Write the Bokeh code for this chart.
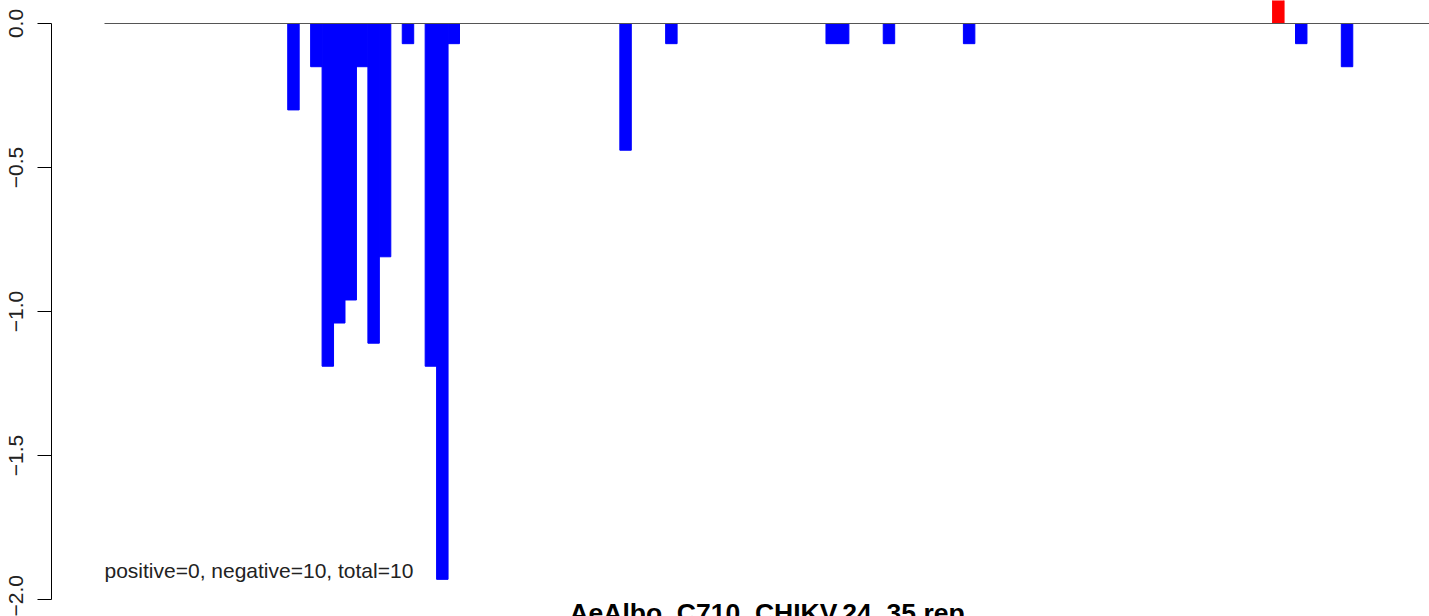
from bokeh.plotting import figure
from bokeh.models import ColumnDataSource, FixedTicker, CustomJSTickFormatter, Label
from bokeh.embed import file_html
from bokeh.resources import INLINE

# ---- data (bin index along the sequence, score) ----
bins = [16, 18, 19, 20, 21, 22, 23, 24, 26, 28, 29, 30, 45, 49, 63, 64, 68, 75, 102, 104, 108]
scores = [-0.30, -0.15, -1.19, -1.04, -0.96, -0.15, -1.11, -0.81, -0.07,
          -1.19, -1.93, -0.07, -0.44, -0.07, -0.07, -0.07, -0.07, -0.07,
          0.30, -0.07, -0.15]
seq_start = 0
seq_end = 115.7
y_ticks = [0.0, -0.5, -1.0, -1.5, -2.0]
title_text = "AeAlbo_C710_CHIKV.24_35.rep"
summary_text = "positive=0, negative=10, total=10"

pad = 0.04 * (seq_end - seq_start)

left = [b for b in bins]
right = [b + 1 for b in bins]
top = [max(s, 0) for s in scores]
bottom = [min(s, 0) for s in scores]
colors = ["#FF0000" if s > 0 else "#0000FF" for s in scores]
src = ColumnDataSource(dict(left=left, right=right, top=top, bottom=bottom, color=colors))

p = figure(width=1429, height=616, output_backend="svg", toolbar_location=None,
           x_range=(seq_start - pad, seq_end), y_range=(-2.059, 0.0799),
           x_axis_location=None, min_border_left=51, min_border_right=0,
           min_border_top=0, min_border_bottom=0)
p.outline_line_color = None
p.grid.visible = False
p.background_fill_color = "white"
p.border_fill_color = "white"

p.quad(left="left", right="right", top="top", bottom="bottom", fill_color="color",
       line_color="color", line_width=1, source=src)

p.segment(x0=[seq_start], y0=[0], x1=[seq_end], y1=[0], line_color="#555555", line_width=1)

ax = p.yaxis[0]
ax.ticker = FixedTicker(ticks=y_ticks)
ax.formatter = CustomJSTickFormatter(code="""
    return tick == 0 ? "0.0" : "\\u2212" + Math.abs(tick).toFixed(1);
""")
ax.bounds = (-2.0, 0.0)
ax.major_label_orientation = "vertical"
ax.major_tick_out = 14
ax.major_tick_in = 0
ax.minor_tick_out = 0
ax.minor_tick_in = 0
ax.major_label_standoff = 14
ax.major_label_text_font = "Liberation Sans"
ax.major_label_text_font_size = "21px"
ax.major_label_text_color = "#222222"
ax.axis_line_color = "black"
ax.major_tick_line_color = "black"

p.add_layout(Label(x=seq_start, y=-1.899, text=summary_text, text_baseline="middle",
                   text_align="left", text_font="Liberation Sans", text_font_size="21px",
                   text_color="#222222"))

p.add_layout(Label(x=(seq_start - pad + seq_end + pad) / 2, y=-2.059, y_offset=19,
                   text=title_text, text_baseline="top", text_align="center",
                   text_font="Liberation Sans", text_font_size="26.5px",
                   text_font_style="bold", text_color="black"))

open("out.html", "w").write(file_html(p, INLINE))
